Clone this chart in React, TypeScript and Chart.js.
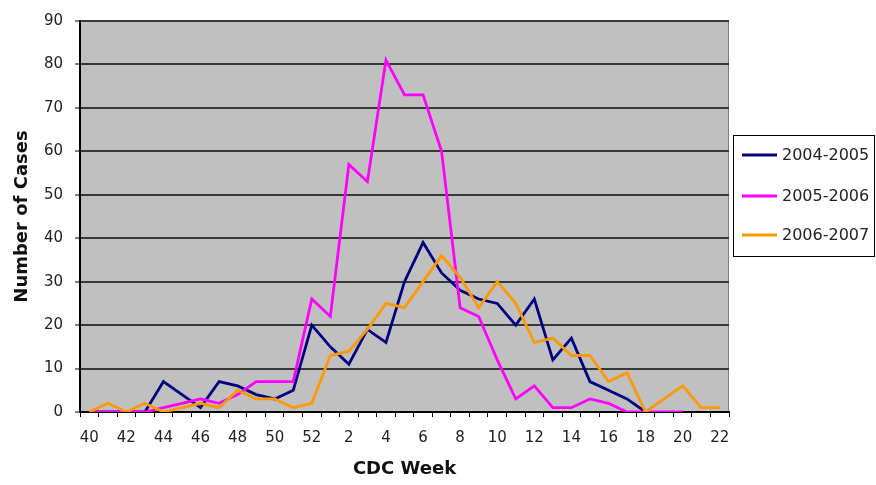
import React, { useEffect, useRef } from 'react';
import { Chart, registerables } from 'chart.js';

Chart.register(...registerables);

const weeks = ['40','41','42','43','44','45','46','47','48','49','50','51','52','1','2','3','4','5','6','7','8','9','10','11','12','13','14','15','16','17','18','19','20','21','22'];

const seasonNames = ['2004-2005', '2005-2006', '2006-2007'];
const seriesColors = ['#000080', '#FF00FF', '#FF9900'];

const cases0405 = [0,0,0,0,7,4,1,7,6,4,3,5,20,15,11,19,16,30,39,32,28,26,25,20,26,12,17,7,5,3,0,null,null,null,null];
const cases0506 = [0,0,0,0,1,2,3,2,4,7,7,7,26,22,57,53,81,73,73,60,24,22,12,3,6,1,1,3,2,0,0,0,0,null,null];
const cases0607 = [0,2,0,2,0,1,2,1,5,3,3,1,2,13,14,19,25,24,30,36,31,24,30,25,16,17,13,13,7,9,0,3,6,1,1];

const yTicksMax = 90;
const yTickStep = 10;

const FONT = 'DejaVu Sans, Verdana, sans-serif';

export default function App() {
  const ref = useRef<HTMLCanvasElement>(null);

  useEffect(() => {
    document.body.style.margin = '0';
    const canvas = ref.current;
    if (!canvas) return;

    const plotBg = {
      id: 'plotBg',
      beforeDraw(chart: any) {
        const { ctx, chartArea: a } = chart;
        ctx.save();
        ctx.fillStyle = '#c0c0c0';
        ctx.fillRect(a.left, a.top, a.right - a.left, a.bottom - a.top);
        ctx.strokeStyle = '#808080';
        ctx.lineWidth = 1;
        ctx.strokeRect(a.left + 0.5, a.top + 0.5, a.right - a.left - 1, a.bottom - a.top - 1);
        ctx.restore();
      },
    };

    const legendBox = {
      id: 'legendBox',
      afterDraw(chart: any) {
        const { ctx } = chart;
        ctx.save();
        const x0 = 733, y0 = 135, w = 142, h = 122;
        ctx.fillStyle = '#ffffff';
        ctx.fillRect(x0, y0, w, h);
        ctx.strokeStyle = '#000000';
        ctx.lineWidth = 1;
        ctx.strokeRect(x0 + 0.5, y0 + 0.5, w - 1, h - 1);
        const rows = [155, 196, 235];
        ctx.font = `16px ${FONT}`;
        ctx.textBaseline = 'middle';
        ctx.textAlign = 'left';
        seasonNames.forEach((name, i) => {
          ctx.strokeStyle = seriesColors[i];
          ctx.lineWidth = 3;
          ctx.beginPath();
          ctx.moveTo(742, rows[i]);
          ctx.lineTo(777, rows[i]);
          ctx.stroke();
          ctx.fillStyle = '#222222';
          ctx.fillText(name, 782, rows[i] + 1);
        });
        ctx.restore();
      },
    };

    const seriesData = [cases0405, cases0506, cases0607];

    const chart = new Chart(canvas, {
      type: 'line',
      data: {
        labels: weeks,
        datasets: seriesData.map((d, i) => ({
          label: seasonNames[i],
          data: d,
          borderColor: seriesColors[i],
          backgroundColor: seriesColors[i],
          borderWidth: 2.8,
          pointRadius: 0,
          tension: 0,
          fill: false,
          spanGaps: false,
          order: 3 - i,
        })),
      },
      options: {
        responsive: false,
        animation: false,
        layout: { padding: { top: 18, right: 147, left: 0, bottom: 0 } },
        plugins: { legend: { display: false }, tooltip: { enabled: false } },
        scales: {
          x: {
            offset: true,
            ticks: {
              autoSkip: false,
              maxRotation: 0,
              padding: 12,
              color: '#222',
              font: { family: FONT, size: 15 },
              callback: (_v: any, i: number) => (i % 2 === 0 ? weeks[i] : ''),
            },
            grid: { offset: true, drawOnChartArea: false, drawTicks: true, tickLength: 5, color: '#000', lineWidth: 1 },
            border: { color: '#000', width: 2 },
            title: { display: true, text: 'CDC Week', color: '#111', font: { family: FONT, size: 18, weight: 'bold' }, padding: { top: 0, bottom: 5 } },
            afterFit(s: any) { s.height = 73; },
          },
          y: {
            min: 0,
            max: yTicksMax,
            ticks: { stepSize: yTickStep, padding: 12, color: '#222', font: { family: FONT, size: 15 } },
            grid: { color: '#383838', lineWidth: 2, drawTicks: true, tickLength: 5, tickColor: '#000', tickWidth: 1 },
            border: { color: '#000', width: 2 },
            title: { display: true, text: 'Number of Cases', color: '#111', font: { family: FONT, size: 18, weight: 'bold' }, padding: { top: 12, bottom: 0 } },
            afterFit(s: any) { s.width = 80; },
          },
        },
      },
      plugins: [plotBg, legendBox],
    } as any);

    return () => chart.destroy();
  }, []);

  return (
    <div style={{ width: 876, height: 485, position: 'relative' }}>
      <canvas ref={ref} width={876} height={485} />
    </div>
  );
}
